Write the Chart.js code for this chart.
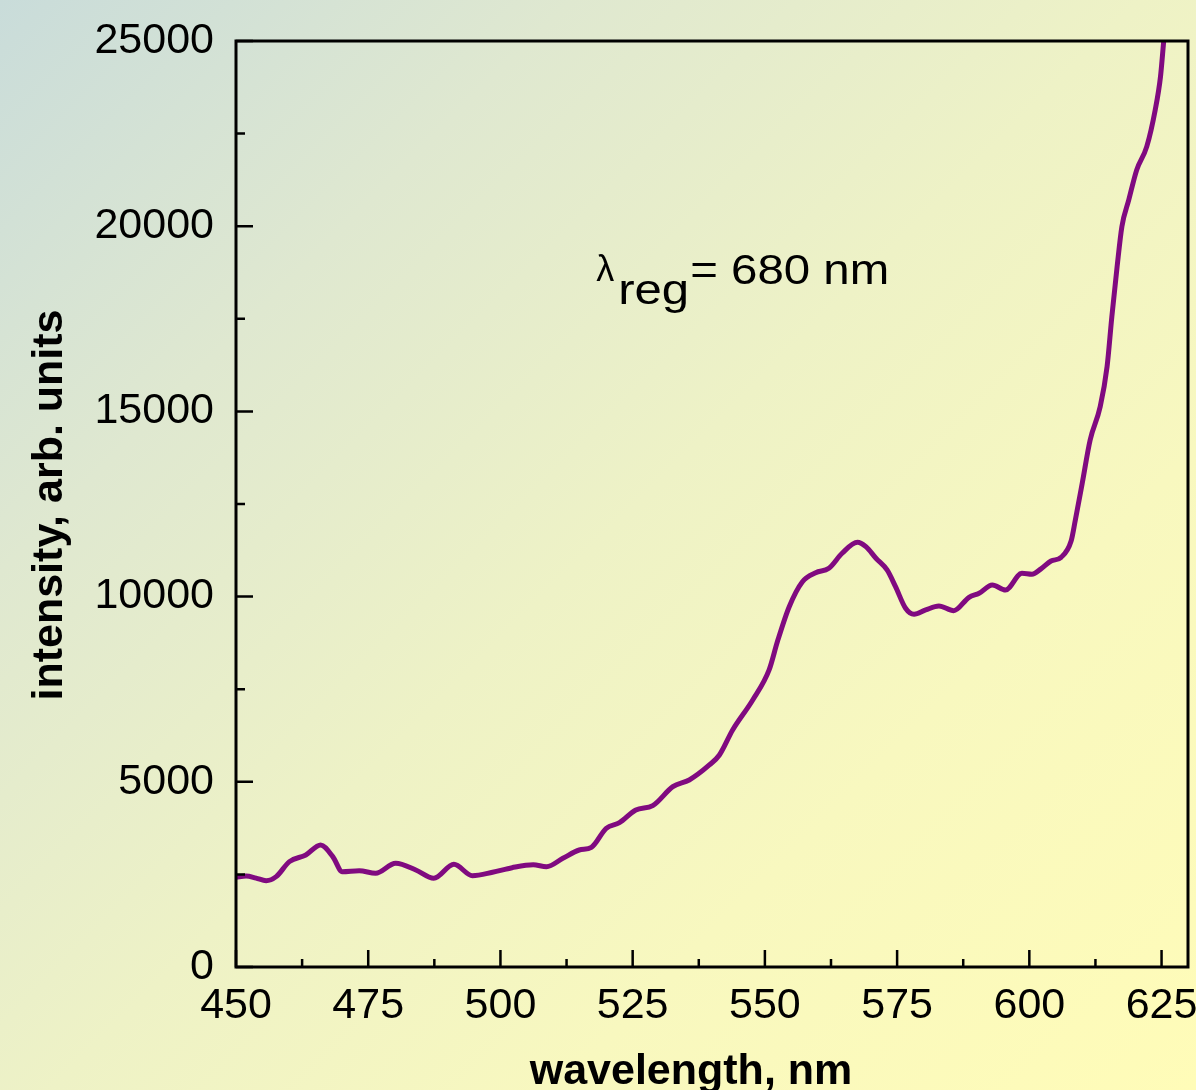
<!DOCTYPE html>
<html>
<head>
<meta charset="utf-8">
<script src="https://cdn.jsdelivr.net/npm/chart.js@4.4.1/dist/chart.umd.min.js"></script>
<style>
  html, body {
    margin: 0;
    padding: 0;
    width: 1196px;
    height: 1090px;
    overflow: hidden;
  }
  body {
    background: linear-gradient(135deg, #c9dcda 0%, #dfe8d0 25%, #eef2c6 50%, #f8f8bf 72%, #fffcb8 100%);
  }
  #wrap {
    position: absolute;
    left: 0;
    top: 0;
    width: 1196px;
    height: 1090px;
  }
</style>
</head>
<body>
<div id="wrap"><canvas id="spectrumChart"></canvas></div>
<script>
// wavelength (nm) and intensity (arb. units)
var wavelengths = [
  450, 451.9, 453.8, 455.7, 457.6, 460.1, 463.2, 466.0, 468.3, 470.1,
  473.3, 476.4, 480.2, 484.0, 487.4, 491.2, 494.7, 498.5, 502.2, 506.2,
  508.7, 511.8, 514.9, 517.2, 520.0, 522.5, 525.6, 528.8, 532.6, 535.7,
  539.5, 541.4, 543.9, 547.7, 550.8, 552.4, 554.6, 557.1, 559.6, 562.1,
  564.6, 567.5, 569.1, 571.0, 573.1, 574.7, 576.6, 578.2, 580.4, 582.9,
  585.7, 588.6, 590.5, 593.0, 595.5, 598.6, 600.5, 602.2, 604.1, 606.0,
  607.9, 608.7, 610.0, 611.5, 613.4, 614.7, 615.6, 616.6, 617.5, 618.8,
  620.3, 622.2, 623.8, 624.8, 625.4
];
var intensities = [
  2420, 2457, 2400, 2330, 2440, 2845, 3024, 3294, 2980, 2573,
  2600, 2530, 2800, 2619, 2394, 2773, 2466, 2557, 2681, 2760,
  2708, 2934, 3159, 3231, 3744, 3896, 4239, 4356, 4869, 5049,
  5454, 5724, 6399, 7209, 8019, 8800, 9728, 10403, 10646, 10765,
  11170, 11467, 11348, 11035, 10719, 10268, 9685, 9523, 9639, 9747,
  9620, 9982, 10090, 10314, 10179, 10630, 10603, 10750, 10960, 11060,
  11500, 12069, 13060, 14229, 15128, 16209, 17558, 18909, 19989, 20709,
  21519, 22149, 23139, 24039, 24984
];

var xTickLabels = [450, 475, 500, 525, 550, 575, 600, 625];
var xMinorTicks = [462.5, 487.5, 512.5, 537.5, 562.5, 587.5, 612.5];
var yTickLabels = [0, 5000, 10000, 15000, 20000, 25000];
var yMinorTicks = [2500, 7500, 12500, 17500, 22500];

var fontFamily = "'Liberation Sans', Arial, Helvetica, sans-serif";

function buildPoints() {
  let points = [];
  for (let i = 0; i < wavelengths.length; i++) {
    points.push({ x: wavelengths[i], y: intensities[i] });
  }
  return points;
}

// labels may hang outside the frame, don't let them shrink the plot
function noLabelPadding(scale) {
  scale.paddingLeft = 0;
  scale.paddingRight = 0;
  scale.paddingTop = 0;
  scale.paddingBottom = 0;
}

// text squeezed/stretched to a given width
function fillTextWidth(ctx, text, x, y, width) {
  let w = ctx.measureText(text).width;
  ctx.save();
  ctx.translate(x, y);
  ctx.scale(width / w, 1);
  ctx.fillText(text, 0, 0);
  ctx.restore();
}

// frame, inward ticks, axis titles and the lambda note
var decorations = {
  id: "decorations",
  afterDraw: function(chart) {
    let ctx = chart.ctx;
    let area = chart.chartArea;
    let xScale = chart.scales.x;
    let yScale = chart.scales.y;

    ctx.save();
    ctx.strokeStyle = "#000";
    ctx.lineWidth = 3;
    ctx.strokeRect(area.left, area.top, area.right - area.left, area.bottom - area.top);

    ctx.lineWidth = 2.5;
    ctx.beginPath();
    xTickLabels.forEach(function(v) {
      let px = xScale.getPixelForValue(v);
      ctx.moveTo(px, area.bottom);
      ctx.lineTo(px, area.bottom - 17);
    });
    xMinorTicks.forEach(function(v) {
      let px = xScale.getPixelForValue(v);
      ctx.moveTo(px, area.bottom);
      ctx.lineTo(px, area.bottom - 8);
    });
    yTickLabels.forEach(function(v) {
      let py = yScale.getPixelForValue(v);
      ctx.moveTo(area.left, py);
      ctx.lineTo(area.left + 17, py);
    });
    yMinorTicks.forEach(function(v) {
      let py = yScale.getPixelForValue(v);
      ctx.moveTo(area.left, py);
      ctx.lineTo(area.left + 9, py);
    });
    ctx.stroke();

    // axis titles
    ctx.fillStyle = "#000";
    ctx.font = "bold 43px " + fontFamily;
    ctx.textAlign = "center";
    ctx.textBaseline = "alphabetic";
    ctx.fillText("wavelength, nm", 691, 1084);

    ctx.save();
    ctx.translate(62, 505);
    ctx.rotate(-Math.PI / 2);
    ctx.fillText("intensity, arb. units", 0, 0);
    ctx.restore();

    // lambda_reg note
    let nx = xScale.getPixelForValue(518.1);
    let ny = yScale.getPixelForValue(18450);
    ctx.textAlign = "left";
    ctx.font = "36px " + fontFamily;
    ctx.fillText("\u03bb", nx, ny - 3);
    ctx.font = "43px " + fontFamily;
    fillTextWidth(ctx, "reg", nx + 22, ny + 20, 71);
    fillTextWidth(ctx, "= 680 nm", nx + 94, ny, 199);

    ctx.restore();
  }
};

function spectrumChart() {
  let ctx = document.getElementById("spectrumChart").getContext("2d");

  let chartData = {
    type: "line",
    data: {
      datasets: [{
        label: "intensity",
        data: buildPoints(),
        borderColor: "#800a80",
        borderWidth: 5,
        pointRadius: 0,
        cubicInterpolationMode: "monotone",
        fill: false
      }]
    },
    options: {
      responsive: false,
      animation: false,
      layout: {
        padding: { top: 41, right: 8, left: 0, bottom: 0 }
      },
      plugins: {
        legend: { display: false },
        tooltip: { enabled: false }
      },
      scales: {
        x: {
          type: "linear",
          min: 450,
          max: 630,
          grid: { display: false, drawTicks: false },
          border: { display: false },
          afterBuildTicks: function(scale) {
            scale.ticks = xTickLabels.map(function(v) { return { value: v }; });
          },
          afterFit: function(scale) {
            scale.height = 123;
            noLabelPadding(scale);
          },
          ticks: {
            autoSkip: false,
            maxRotation: 0,
            padding: 13,
            color: "#000",
            font: { family: fontFamily, size: 43 }
          }
        },
        y: {
          min: 0,
          max: 25000,
          grid: { display: false, drawTicks: false },
          border: { display: false },
          afterBuildTicks: function(scale) {
            scale.ticks = yTickLabels.map(function(v) { return { value: v }; });
          },
          afterFit: function(scale) {
            scale.width = 236;
            noLabelPadding(scale);
          },
          ticks: {
            padding: 22,
            color: "#000",
            font: { family: fontFamily, size: 43 },
            callback: function(value) { return String(value); }
          }
        }
      }
    },
    plugins: [decorations]
  };

  let canvas = document.getElementById("spectrumChart");
  canvas.width = 1196;
  canvas.height = 1090;
  new Chart(ctx, chartData);
}

window.onload = spectrumChart;
</script>
</body>
</html>
